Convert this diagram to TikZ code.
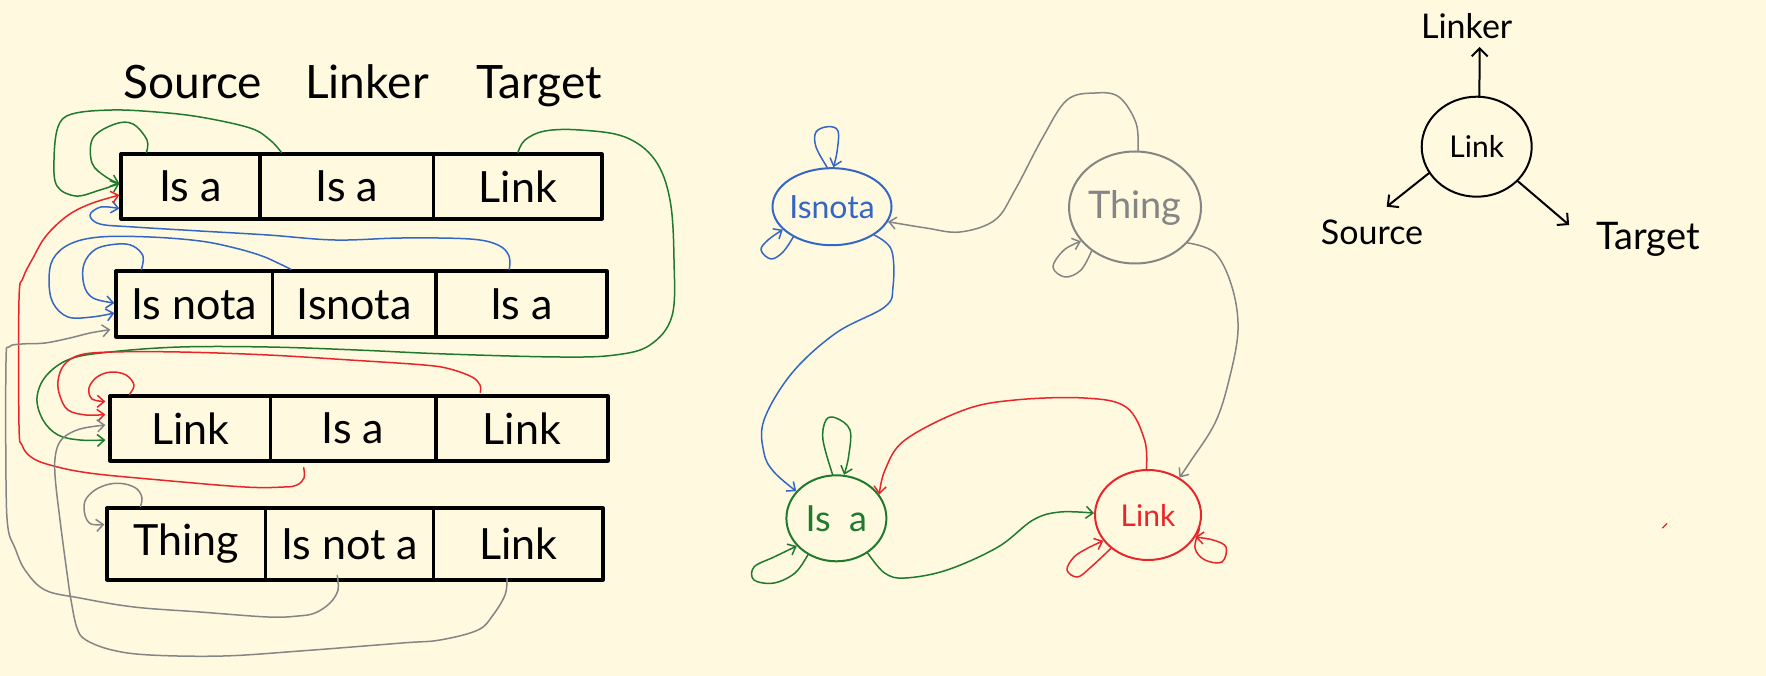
\documentclass[tikz,border=0pt]{standalone}
\usepackage{fontspec}
\setmainfont{Lato}
\usetikzlibrary{arrows.meta,shapes.geometric,calc}
\definecolor{bg}{HTML}{FFF9E0}
\definecolor{hblue}{HTML}{3466C4}
\definecolor{hgreen}{HTML}{1F7A2E}
\definecolor{hred}{HTML}{E8262A}
\definecolor{hgray}{HTML}{858585}
\begin{document}
\begin{tikzpicture}[x=1pt,y=-1pt,
  cell/.style={draw=black, line width=3.2pt, line join=round, inner sep=0pt, font=\fontsize{43}{47}\selectfont},
  hdr/.style={inner sep=0pt, anchor=base, font=\fontsize{46}{50}\selectfont},
  conn/.style={line width=1.5pt, line cap=round, line join=round, -{Straight Barb[length=7pt,width=12pt,line width=1.5pt]}},
  blob/.style={ellipse, draw, line width=2pt, inner sep=0pt},
  lbl/.style={inner sep=0pt, anchor=base, font=\fontsize{34}{38}\selectfont},
  rarr/.style={line width=2pt, line cap=round, -{Straight Barb[length=8pt,width=16pt,line width=2pt]}}
]
\fill[bg] (0,0) rectangle (1766,676);
\useasboundingbox (0,0) rectangle (1766,676);

% ---------- header ----------
\node[hdr] (hsrc) at (193,99) {Source};
\node[hdr] (hlnk) at (367,99) {Linker};
\node[hdr] (htgt) at (539,99) {Target};

% ---------- table ----------
\node[cell, minimum width=139pt, minimum height=65pt] (r1c1) at (190.5,186.5) {Is a};
\node[cell, minimum width=173.6pt, minimum height=65pt] (r1c2) at (346.8,186.5) {Is a};
\node[cell, minimum width=168.4pt, minimum height=65pt] (r1c3) at (517.8,186.5) {Link};

\node[cell, minimum width=156.6pt, minimum height=66pt] (r2c1) at (194.3,304) {Is nota};
\node[cell, minimum width=163.3pt, minimum height=66pt] (r2c2) at (354.25,304) {Isnota};
\node[cell, minimum width=171.1pt, minimum height=66pt] (r2c3) at (521.45,304) {Is a};

\node[cell, minimum width=160.3pt, minimum height=65pt] (r3c1) at (190.15,428.5) {Link};
\node[cell, minimum width=165.6pt, minimum height=65pt] (r3c2) at (353.1,428.5) {Is a};
\node[cell, minimum width=172.1pt, minimum height=65pt] (r3c3) at (521.95,428.5) {Link};

\node[cell, minimum width=158.8pt, minimum height=72pt] (r4c1) at (186.4,544) {Thing};
\node[cell, minimum width=167.8pt, minimum height=72pt] (r4c2) at (349.7,544) {Is not a};
\node[cell, minimum width=169.4pt, minimum height=72pt] (r4c3) at (518.3,544) {Link};

% connector end points on the cells
\coordinate (g1s) at ($(r1c1.north west)+(27,0)$);
\coordinate (g2s) at ($(r1c2.north west)+(23,0)$);
\coordinate (g3s) at ($(r1c3.north west)+(86,0)$);
\coordinate (r1in) at ($(r1c1.west)+(0,-3)$);
\coordinate (r1red) at ($(r1c1.west)+(0,8.5)$);
\coordinate (r1blue) at ($(r1c1.south west)+(0,-12)$);
\coordinate (b1s) at ($(r2c1.north west)+(27,0)$);
\coordinate (b2s) at ($(r2c2.north west)+(20,0)$);
\coordinate (b3s) at ($(r2c3.north west)+(75,0)$);
\coordinate (r2b1) at ($(r2c1.west)+(0,-1)$);
\coordinate (r2b2) at ($(r2c1.west)+(0,9)$);
\coordinate (r2gr) at ($(r2c1.south west)+(-4,-9)$);
\coordinate (rr1s) at ($(r3c2.south west)+(35,5)$);
\coordinate (rr2s) at ($(r3c1.north west)+(21,0)$);
\coordinate (rr3s) at ($(r3c3.north west)+(46,-2)$);
\coordinate (r3r2) at ($(r3c1.west)+(-3,-27)$);
\coordinate (r3r3) at ($(r3c1.west)+(-3,-14)$);
\coordinate (r3gr) at ($(r3c1.west)+(-3,-3.5)$);
\coordinate (r3g) at ($(r3c1.west)+(-3,11.5)$);
\coordinate (gr1s) at ($(r4c2.south west)+(73,-6)$);
\coordinate (gr2s) at ($(r4c3.south west)+(75,-3)$);
\coordinate (gr3s) at ($(r4c1.north west)+(35,0)$);
\coordinate (r4gr) at ($(r4c1.north west)+(-1,18)$);

% green
\draw[conn,hgreen] plot[smooth,tension=0.6] coordinates {(g1s) (147,140) (133,124) (115,124) (93,138) (92,163) (106,177) (r1in)};
\draw[conn,hgreen] plot[smooth,tension=0.6] coordinates {(g2s) (270,140) (250,128) (200,117) (156,112) (112,110) (72,114) (58,127) (54,160) (57,186) (76,196) (100,190) (r1in)};
\draw[conn,hgreen] plot[smooth,tension=0.6] coordinates {(g3s) (525,140) (545,131) (580,130) (625,137) (655,160) (670,200) (674,260) (672,316) (650,345) (615,355) (560,357) (446,354) (357,350) (268,347) (180,347) (110,352) (70,359) (46,376) (37,398) (43,420) (58,435) (80,440) (r3g)};
% blue
\draw[conn,hblue] plot[smooth,tension=0.6] coordinates {(b1s) (143,256) (133,246) (118,244) (96,249) (84,264) (84,285) (93,298) (r2b1)};
\draw[conn,hblue] plot[smooth,tension=0.6] coordinates {(b2s) (280,264) (262,256) (235,248) (200,241) (150,237) (100,237) (70,244) (53,259) (49,281) (53,303) (68,317) (92,317) (r2b2)};
\draw[conn,hblue] plot[smooth,tension=0.6] coordinates {(b3s) (509,256) (498,245) (470,239) (402,238) (335,240) (268,235) (200,231) (134,227) (100,224) (90,215) (101,207) (r1blue)};
% red
\draw[conn,hred] plot[smooth,tension=0.6] coordinates {(rr1s) (304,478) (297,485) (284,487) (245,487) (160,480) (89,473) (50,465) (31,457) (22,445) (19,425) (19,300) (23,278) (33,258) (46,236) (67,216) (90,204) (r1red)};
\draw[conn,hred] plot[smooth,tension=0.6] coordinates {(rr2s) (134,385) (126,375) (111,372) (97,377) (89,388) (92,399) (r3r2)};
\draw[conn,hred] plot[smooth,tension=0.6] coordinates {(rr3s) (480,385) (472,377) (450,369) (424,365) (350,360) (268,355) (180,352) (112,352) (80,355) (64,365) (58,381) (60,396) (68,410) (86,415) (r3r3)};
% gray
\draw[conn,hgray] plot[smooth,tension=0.6] coordinates {(gr1s) (338,590) (330,603) (315,613) (298,616) (268,617) (200,612) (134,607) (80,598) (45,590) (25,570) (15,548) (8,528) (6,480) (6,362) (9,347) (22,344) (45,343) (70,338) (90,333) (r2gr)};
\draw[conn,hgray] plot[smooth,tension=0.6] coordinates {(gr2s) (505,595) (493,615) (478,630) (440,640) (402,643) (300,651) (223,656) (150,655) (112,650) (86,640) (77,628) (71,600) (67,573) (60,520) (55,475) (56,452) (63,438) (80,429) (r3gr)};
\draw[conn,hgray] plot[smooth,tension=0.6] coordinates {(gr3s) (142,498) (137,489) (125,484) (110,484) (95,490) (85,501) (85,515) (91,524) (r4gr)};

% ---------- middle graph ----------
\node[blob, draw=hblue, text=hblue, minimum width=119pt, minimum height=77pt, font=\fontsize{32}{36}\selectfont] (isnota) at (832,206.7) {\makebox[0pt]{Isnota}};
\node[blob, draw=hgray, text=hgray, minimum width=132pt, minimum height=112pt, font=\fontsize{38}{42}\selectfont] (thing) at (1135,207.5) {\makebox[0pt]{Thing}};
\node[blob, draw=hgreen, text=hgreen, minimum width=100pt, minimum height=86pt, font=\fontsize{36}{40}\selectfont] (isa) at (836.4,518.3) {\makebox[0pt]{Is\ \ a}};
\node[blob, draw=hred, text=hred, minimum width=106pt, minimum height=90pt, font=\fontsize{30}{34}\selectfont] (link) at (1148,515) {\makebox[0pt]{Link}};

\draw[conn,hblue] plot[smooth,tension=0.6] coordinates {(isnota.97) (816,147) (816,132) (828,126.7) (838,131) (837,152) (isnota.88)};
\draw[conn,hblue] plot[smooth,tension=0.6] coordinates {(isnota.218) (783,252) (771,259) (761,250) (768,240) (isnota.205)};
\draw[conn,hblue] plot[smooth,tension=0.6] coordinates {(isnota.326) (891.5,250) (893,287) (884.6,307) (836,333) (792,373) (764,420) (764,453) (774,472) (isa.146)};
\draw[conn,hgray] plot[smooth,tension=0.6] coordinates {(thing.87) (1136,123) (1119,97) (1095,93) (1067,100) (1043,137) (1015,190) (995,220) (960,232) (926,228) (isnota.345)};
\draw[conn,hgray] plot[smooth,tension=0.6] coordinates {(thing.225) (1081,270) (1065,277) (1053,267) (1064,250) (thing.212)};
\draw[conn,hgray] plot[smooth,tension=0.6] coordinates {(thing.326) (1215,253) (1232,287) (1238,330) (1229,380) (1215,423) (1190,462) (link.50)};
\draw[conn,hgreen] plot[smooth,tension=0.6] coordinates {(isa.95) (823,440) (826,420) (836,418) (850,430) (848.5,457) (isa.80)};
\draw[conn,hgreen] plot[smooth,tension=0.6] coordinates {(isa.232) (795,573) (774,583) (754,580) (754,567) (774,557) (isa.215)};
\draw[conn,hgreen] plot[smooth,tension=0.6] coordinates {(isa.312) (884.6,573) (905,578) (947,570) (998,547) (1033,520) (1060,512) (link.178)};
\draw[conn,hred] plot[smooth,tension=0.6] coordinates {(link.92) (1144.6,440) (1126,407) (1084,398) (1015,400) (964,410) (905,440) (885,470) (isa.29)};
\draw[conn,hred] plot[smooth,tension=0.6] coordinates {(link.222) (1091,567) (1077.5,577) (1067,570) (1074,557) (1088,548) (link.210)};
\draw[conn,hred] plot[smooth,tension=0.6] coordinates {(link.345) (1195,548) (1205,560) (1222,562) (1226,547) (1213,540) (link.335)};

% ---------- right: link structure ----------
\node[blob, draw=black, minimum width=110pt, minimum height=100pt, font=\fontsize{30}{34}\selectfont] (rlink) at (1476.7,146.7) {\makebox[0pt]{Link}};
\node[lbl] (rlinker) at (1466.7,38.3) {Linker};
\node[lbl] (rsource) at (1372,245) {Source};
\node[lbl, font=\fontsize{38}{42}\selectfont] (rtarget) at (1648,250) {Target};
\draw[rarr] (rlink.87) -- ($(rlinker.base)+(13,8.7)$);
\draw[rarr] (rlink.209) -- ($(rsource.base)+(14.7,-38.3)$);
\draw[rarr] (rlink.320) -- ($(rtarget.base west)+(-27,-25)$);

% stray red tick
\draw[hred, line width=1.2pt, line cap=round] (1662.5,528) -- (1667,523.5);
\end{tikzpicture}
\end{document}
